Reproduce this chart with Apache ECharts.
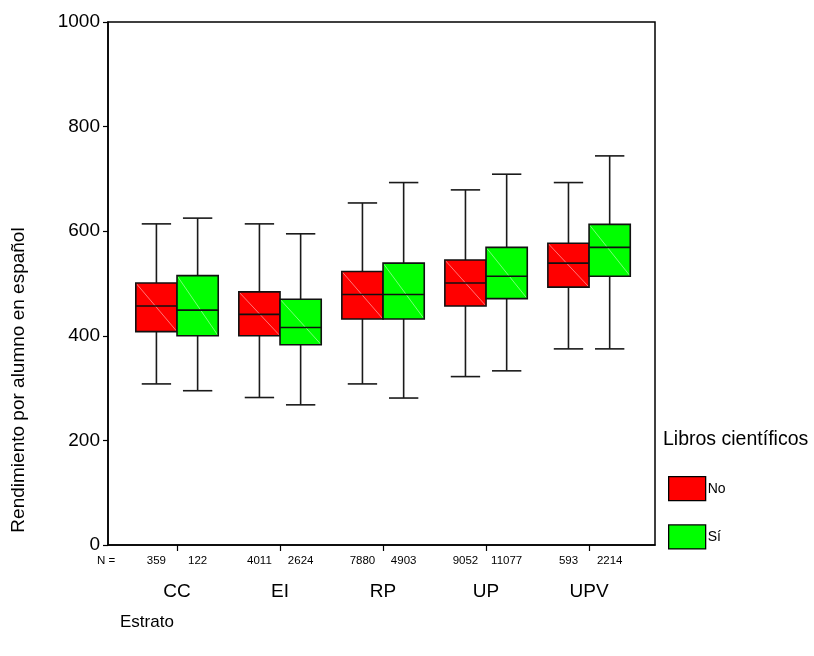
<!DOCTYPE html>
<html>
<head>
<meta charset="utf-8">
<title>Rendimiento por alumno en español</title>
<script src="https://cdn.jsdelivr.net/npm/echarts@6/dist/echarts.min.js"></script>
<style>
  html, body { margin: 0; padding: 0; background: #fff; }
  #chart { width: 814px; height: 656px; }
</style>
</head>
<body>
<div id="chart"></div>
<script>
// Strata and the two "Libros científicos" groups
const categories = ['CC', 'EI', 'RP', 'UP', 'UPV'];
const groupNames = ['No', 'Sí'];

// Box statistics per stratum: [lower whisker, Q1, median, Q3, upper whisker]
const statsNo = [
  [308, 408, 457, 501, 614],
  [282, 400, 441, 484, 614],
  [308, 432, 479, 523, 654],
  [322, 457, 501, 545, 679],
  [375, 493, 539, 577, 693]
];
const statsSi = [
  [295, 400, 449, 515, 625],
  [268, 383, 416, 470, 595],
  [281, 432, 479, 539, 693],
  [333, 471, 514, 569, 709],
  [375, 514, 569, 613, 744]
];

// Case counts shown under each box
const countsNo = [359, 4011, 7880, 9052, 593];
const countsSi = [122, 2624, 4903, 11077, 2214];

// Value axis ticks
const yTicks = [0, 200, 400, 600, 800, 1000];

const FONT = '"Liberation Sans", Arial, Helvetica, sans-serif';
const BOX_W = 0.40;     // box width in category units
const CAP_W = 0.285;    // whisker cap width in category units
const OFFSET = [-0.2, 0.2];
const FILLS = ['#ff0000', '#00ff00'];
const DIAG = ['rgba(255,190,190,0.9)', 'rgba(190,255,190,0.9)'];

const catPos = categories.map((c, i) => i + 1);

function makeBoxRenderer(gi) {
  return function (params, api) {
    const xc = api.value(0) + OFFSET[gi];
    const low = api.value(1), q1 = api.value(2), med = api.value(3),
          q3 = api.value(4), high = api.value(5);
    const cx = api.coord([xc, 0])[0];
    const xl = api.coord([xc - BOX_W / 2, 0])[0];
    const xr = api.coord([xc + BOX_W / 2, 0])[0];
    const cl = api.coord([xc - CAP_W / 2, 0])[0];
    const cr = api.coord([xc + CAP_W / 2, 0])[0];
    const yLow = api.coord([xc, low])[1];
    const yQ1 = api.coord([xc, q1])[1];
    const yMed = api.coord([xc, med])[1];
    const yQ3 = api.coord([xc, q3])[1];
    const yHigh = api.coord([xc, high])[1];
    const line = { stroke: '#1a1a1a', lineWidth: 1.6 };
    return {
      type: 'group',
      children: [
        { type: 'line', shape: { x1: cx, y1: yHigh, x2: cx, y2: yQ3 }, style: line },
        { type: 'line', shape: { x1: cl, y1: yHigh, x2: cr, y2: yHigh }, style: line },
        { type: 'line', shape: { x1: cx, y1: yQ1, x2: cx, y2: yLow }, style: line },
        { type: 'line', shape: { x1: cl, y1: yLow, x2: cr, y2: yLow }, style: line },
        { type: 'rect', shape: { x: xl, y: yQ3, width: xr - xl, height: yQ1 - yQ3 },
          style: { fill: FILLS[gi], stroke: null } },
        { type: 'line', shape: { x1: xl, y1: yQ3, x2: xr, y2: yQ1 },
          style: { stroke: DIAG[gi], lineWidth: 0.7 } },
        { type: 'line', shape: { x1: xl, y1: yMed, x2: xr, y2: yMed },
          style: { stroke: '#111', lineWidth: 1.6 } },
        { type: 'rect', shape: { x: xl, y: yQ3, width: xr - xl, height: yQ1 - yQ3 },
          style: { fill: null, stroke: '#111', lineWidth: 1.6 } }
      ]
    };
  };
}

function boxData(stats) {
  return stats.map((s, i) => [catPos[i]].concat(s));
}

// Positions of the count labels (one under each box)
const countPositions = [];
const countText = {};
catPos.forEach((p, i) => {
  const a = +(p + OFFSET[0]).toFixed(2), b = +(p + OFFSET[1]).toFixed(2);
  countPositions.push(a, b);
  countText[a] = String(countsNo[i]);
  countText[b] = String(countsSi[i]);
});

const chart = echarts.init(document.getElementById('chart'), null, { renderer: 'canvas' });

chart.setOption({
  backgroundColor: '#ffffff',
  animation: false,
  textStyle: { fontFamily: FONT },
  grid: {
    left: 108, top: 22, width: 547, height: 523,
    show: true, borderColor: '#000', borderWidth: 1.5, backgroundColor: 'transparent'
  },
  xAxis: [
    {
      type: 'value', min: 0.33, max: 5.64, position: 'bottom',
      splitLine: { show: false },
      axisLine: { show: true, lineStyle: { color: '#000', width: 1.5 } },
      axisTick: { show: true, length: 6, customValues: catPos, lineStyle: { color: '#000', width: 1.2 } },
      axisLabel: {
        customValues: catPos, margin: 37, fontSize: 19, color: '#000', fontFamily: FONT,
        formatter: v => categories[Math.round(v) - 1] || ''
      }
    },
    {
      type: 'value', min: 0.33, max: 5.64, position: 'bottom', gridIndex: 0,
      splitLine: { show: false },
      axisLine: { show: false },
      axisTick: { show: false },
      axisLabel: {
        customValues: countPositions, margin: 10, fontSize: 11.5, color: '#000', fontFamily: FONT,
        formatter: v => countText[+v.toFixed(2)] || ''
      }
    }
  ],
  yAxis: {
    type: 'value', min: 0, max: 1000, interval: 200,
    splitLine: { show: false },
    axisLine: { show: true, lineStyle: { color: '#000', width: 1.5 } },
    axisTick: { show: true, length: 5, inside: false, lineStyle: { color: '#000', width: 1.2 } },
    axisLabel: {
      fontSize: 19, color: '#000', margin: 8, fontFamily: FONT,
      customValues: yTicks,
      formatter: v => String(v)
    }
  },
  legend: {
    orient: 'vertical', left: 668, top: 476,
    itemWidth: 37, itemHeight: 24, itemGap: 23, padding: 0,
    icon: 'rect',
    data: groupNames,
    textStyle: { fontSize: 14, color: '#000', fontFamily: FONT, padding: [2, 0, 0, -3] },
    itemStyle: { borderColor: '#000', borderWidth: 1.3 }
  },
  graphic: [
    { type: 'text', x: 19, y: 380, rotation: Math.PI / 2,
      style: { text: 'Rendimiento por alumno en español', font: '19px ' + FONT, fill: '#000',
               align: 'center', verticalAlign: 'middle' } },
    { type: 'text', x: 663, y: 440,
      style: { text: 'Libros científicos', font: '19.5px ' + FONT, fill: '#000',
               align: 'left', verticalAlign: 'middle' } },
    { type: 'text', x: 97, y: 561,
      style: { text: 'N =', font: '11.5px ' + FONT, fill: '#000',
               align: 'left', verticalAlign: 'middle' } },
    { type: 'text', x: 120, y: 622,
      style: { text: 'Estrato', font: '17px ' + FONT, fill: '#000',
               align: 'left', verticalAlign: 'middle' } }
  ],
  series: groupNames.map((name, gi) => ({
    name: name,
    type: 'custom',
    xAxisIndex: 0,
    itemStyle: { color: FILLS[gi], borderColor: '#000', borderWidth: 1.3 },
    encode: { x: 0, y: [1, 2, 3, 4, 5] },
    renderItem: makeBoxRenderer(gi),
    data: boxData(gi === 0 ? statsNo : statsSi)
  }))
});
</script>
</body>
</html>
